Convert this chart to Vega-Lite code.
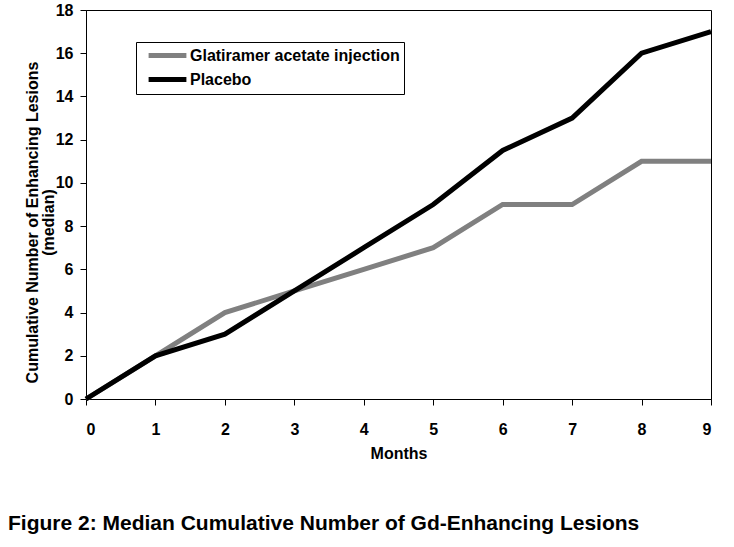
{
  "$schema": "https://vega.github.io/schema/vega-lite/v6.json",
  "width": 625,
  "height": 389,
  "autosize": {"type": "none"},
  "padding": {"left": 86, "top": 10, "right": 23, "bottom": 148},
  "background": "white",
  "title": {
    "text": "Figure 2: Median Cumulative Number of Gd-Enhancing Lesions",
    "orient": "bottom",
    "anchor": "start",
    "frame": "group",
    "dx": -78,
    "offset": 52,
    "font": "Liberation Sans",
    "fontSize": 21,
    "fontWeight": "bold",
    "color": "black"
  },
  "data": {
    "values": [
      {"series": "Glatiramer acetate injection", "month": 0, "value": 0},
      {"series": "Glatiramer acetate injection", "month": 1, "value": 2},
      {"series": "Glatiramer acetate injection", "month": 2, "value": 4},
      {"series": "Glatiramer acetate injection", "month": 3, "value": 5},
      {"series": "Glatiramer acetate injection", "month": 4, "value": 6},
      {"series": "Glatiramer acetate injection", "month": 5, "value": 7},
      {"series": "Glatiramer acetate injection", "month": 6, "value": 9},
      {"series": "Glatiramer acetate injection", "month": 7, "value": 9},
      {"series": "Glatiramer acetate injection", "month": 8, "value": 11},
      {"series": "Glatiramer acetate injection", "month": 9, "value": 11},
      {"series": "Placebo", "month": 0, "value": 0},
      {"series": "Placebo", "month": 1, "value": 2},
      {"series": "Placebo", "month": 2, "value": 3},
      {"series": "Placebo", "month": 3, "value": 5},
      {"series": "Placebo", "month": 4, "value": 7},
      {"series": "Placebo", "month": 5, "value": 9},
      {"series": "Placebo", "month": 6, "value": 11.5},
      {"series": "Placebo", "month": 7, "value": 13},
      {"series": "Placebo", "month": 8, "value": 16},
      {"series": "Placebo", "month": 9, "value": 17}
    ]
  },
  "mark": {"type": "line", "strokeWidth": 5, "strokeJoin": "miter"},
  "encoding": {
    "x": {
      "field": "month",
      "type": "quantitative",
      "scale": {"domain": [0, 9], "nice": false},
      "axis": {
        "title": "Months",
        "values": [0, 1, 2, 3, 4, 5, 6, 7, 8, 9],
        "format": "d",
        "labelPadding": 16,
        "titlePadding": 8
      }
    },
    "y": {
      "field": "value",
      "type": "quantitative",
      "scale": {"domain": [0, 18], "nice": false},
      "axis": {
        "title": ["Cumulative Number of Enhancing Lesions", "(median)"],
        "values": [0, 2, 4, 6, 8, 10, 12, 14, 16, 18],
        "labelPadding": 7,
        "titleX": -62,
        "titleY": 212,
        "titleBaseline": "top",
        "titleAlign": "center",
        "titleLineHeight": 16
      }
    },
    "color": {
      "field": "series",
      "type": "nominal",
      "scale": {
        "domain": ["Glatiramer acetate injection", "Placebo"],
        "range": ["#808080", "#000000"]
      },
      "legend": {
        "title": null,
        "orient": "none",
        "legendX": 50,
        "legendY": 32,
        "padding": 4,
        "strokeColor": "black",
        "fillColor": "white",
        "symbolType": "M-2.7,0H2.7",
        "symbolSize": 196,
        "symbolStrokeWidth": 5,
        "symbolOffset": 18,
        "labelOffset": 13,
        "rowPadding": 3,
        "labelFont": "Liberation Sans",
        "labelFontSize": 16,
        "labelFontWeight": "bold",
        "labelColor": "black",
        "labelLimit": 400
      }
    }
  },
  "config": {
    "view": {"stroke": "black", "strokeWidth": 1},
    "axis": {
      "grid": false,
      "domainColor": "black",
      "domainWidth": 1,
      "tickColor": "black",
      "tickSize": 6,
      "labelFont": "Liberation Sans",
      "labelFontSize": 16,
      "labelFontWeight": "bold",
      "labelColor": "black",
      "titleFont": "Liberation Sans",
      "titleFontSize": 16,
      "titleFontWeight": "bold",
      "titleColor": "black"
    }
  }
}
